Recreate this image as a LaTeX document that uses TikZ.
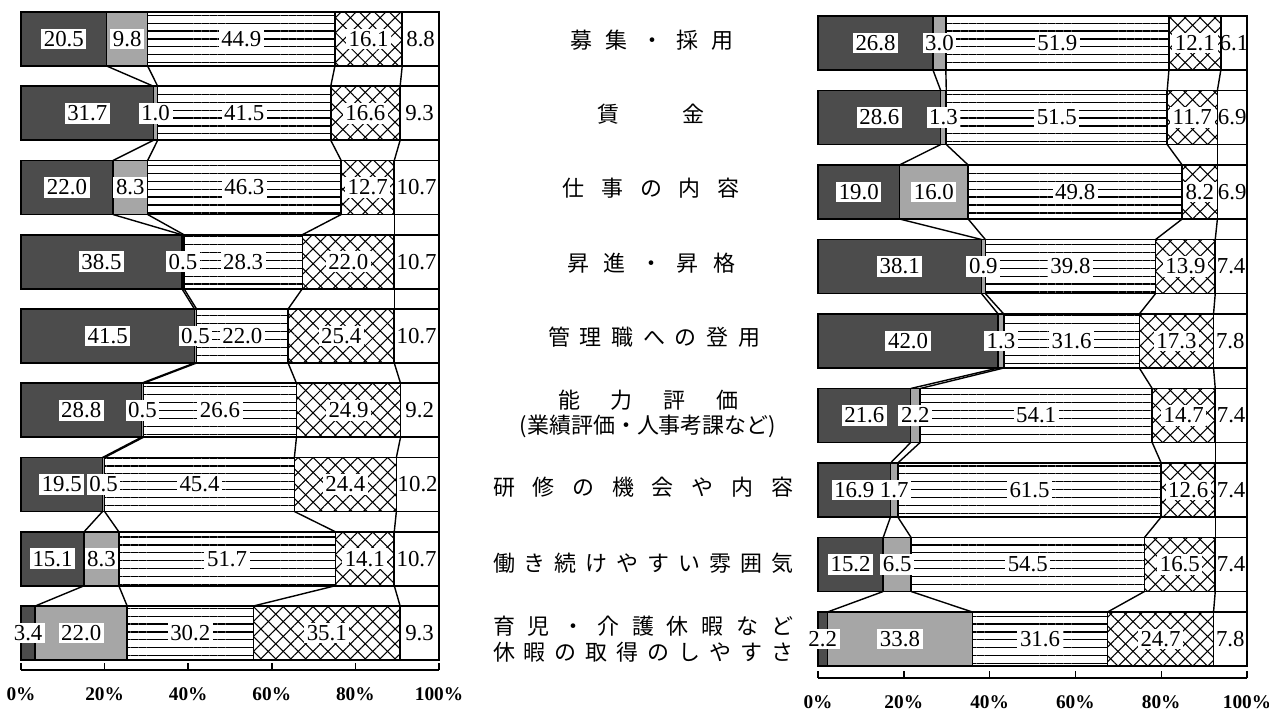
\documentclass[tikz,border=0pt]{standalone}
\usepackage{fontspec}
\setmainfont{Liberation Serif}
\newfontfamily\jp{Noto Sans CJK JP}
\usetikzlibrary{patterns.meta}

\newcommand\barpanel[7]{%
\draw[thick] (#2,#6) -- ({#2+100*#3},#6);
\foreach \t in {0,20,...,100}{
  \draw[thick] ({#2+\t*#3},#6) -- ({#2+\t*#3},#6-7);
  \node[ticklab] (#1x\t) at ({#2+\t*#3},#6+24) {\t\%};
}
\foreach \pa/\pb/\pc/\pd/\pe [count=\i] in {#7}{
  \pgfmathsetmacro\yt{#4+(\i-1)*#5}
  \pgfmathsetmacro\yb{\yt+54}
  \pgfmathsetmacro\ym{\yt+27}
  \pgfmathsetmacro\xb{#2+#3*\pa}
  \pgfmathsetmacro\xc{#2+#3*(\pa+\pb)}
  \pgfmathsetmacro\xd{#2+#3*(100-\pd-\pe)}
  \pgfmathsetmacro\xe{#2+#3*(100-\pe)}
  \pgfmathsetmacro\xf{#2+#3*100}
  \draw[darkseg] (#2,\yt) rectangle (\xb,\yb);
  \draw[lightseg] (\xb,\yt) rectangle (\xc,\yb);
  \draw[lineseg] (\xc,\yt) rectangle (\xd,\yb);
  \draw[crossseg] (\xd,\yt) rectangle (\xe,\yb);
  \draw[whiteseg] (\xe,\yt) rectangle (\xf,\yb);
  \node[boxlab] (#1\i a) at ({(#2+\xb)/2},\ym) {\pa};
  \node[boxlab] (#1\i b) at ({(\xb+\xc)/2},\ym) {\pb};
  \node[boxlab] (#1\i c) at ({(\xc+\xd)/2},\ym) {\pc};
  \node[boxlab] (#1\i d) at ({(\xd+\xe)/2},\ym) {\pd};
  \node[plainlab] (#1\i e) at ({(\xe+\xf)/2},\ym) {\pe};
  \foreach \x [count=\k] in {\xb,\xc,\xd,\xe,\xf}{
    \coordinate (#1\i t\k) at (\x,\yt);
    \coordinate (#1\i b\k) at (\x,\yb);
  }
  \ifnum\i>1
    \pgfmathtruncatemacro\prev{\i-1}
    \foreach \k in {1,...,5} \draw[thick] (#1\prev b\k) -- (#1\i t\k);
  \fi
}}

\begin{document}
\begin{tikzpicture}[x=0.02cm,y=-0.02cm,
  seg/.style={draw=black,line width=0.9pt},
  darkseg/.style={seg,fill=black!70},
  lightseg/.style={seg,fill=black!35},
  lineseg/.style={seg,pattern={Lines[angle=0,distance=4.5pt,line width=0.7pt]}},
  crossseg/.style={seg,pattern={Lines[angle=45,distance=6pt,line width=0.6pt]},
    postaction={pattern={Lines[angle=-45,distance=6pt,line width=0.6pt]}}},
  whiteseg/.style={seg,fill=white},
  boxlab/.style={fill=white,inner sep=1.5pt,font=\fontsize{13}{15}\selectfont},
  plainlab/.style={inner sep=1pt,font=\fontsize{13}{15}\selectfont},
  ticklab/.style={font=\fontsize{11}{13}\selectfont\bfseries},
  cat/.style={font=\jp\fontsize{12.5}{14.5}\selectfont,align=center}]
\useasboundingbox (0,0) rectangle (1269,711);

\barpanel{L}{21}{4.18}{12}{74.25}{670}{20.5/9.8/44.9/16.1/8.8,
  31.7/1.0/41.5/16.6/9.3, 22.0/8.3/46.3/12.7/10.7, 38.5/0.5/28.3/22.0/10.7,
  41.5/0.5/22.0/25.4/10.7, 28.8/0.5/26.6/24.9/9.2, 19.5/0.5/45.4/24.4/10.2,
  15.1/8.3/51.7/14.1/10.7, 3.4/22.0/30.2/35.1/9.3}
\barpanel{R}{818}{4.29}{16}{74.5}{678}{26.8/3.0/51.9/12.1/6.1,
  28.6/1.3/51.5/11.7/6.9, 19.0/16.0/49.8/8.2/6.9, 38.1/0.9/39.8/13.9/7.4,
  42.0/1.3/31.6/17.3/7.8, 21.6/2.2/54.1/14.7/7.4, 16.9/1.7/61.5/12.6/7.4,
  15.2/6.5/54.5/16.5/7.4, 2.2/33.8/31.6/24.7/7.8}

\node[cat] (c1) at (652,40) {\makebox[3.26cm][s]{募 集 ・ 採 用}};
\node[cat] (c2) at (651,114) {\makebox[2.14cm][s]{賃 金}};
\node[cat] (c3) at (651,188) {\makebox[3.54cm][s]{仕 事 の 内 容}};
\node[cat] (c4) at (651,263) {\makebox[3.36cm][s]{昇 進 ・ 昇 格}};
\node[cat] (c5) at (654,337) {\makebox[4.24cm][s]{管 理 職 へ の 登 用}};
\node[cat] (c6) at (648,414) {\makebox[3.6cm][s]{能 力 評 価}\\(業績評価・人事考課など)};
\node[cat] (c7) at (643,487) {\makebox[6cm][s]{研 修 の 機 会 や 内 容}};
\node[cat] (c8) at (643,563) {\makebox[6cm][s]{働 き 続 け や す い 雰 囲 気}};
\node[cat] (c9) at (643,639) {\makebox[6cm][s]{育 児 ・ 介 護 休 暇 な ど}\\
  \makebox[6cm][s]{休 暇 の 取 得 の し や す さ}};
\end{tikzpicture}
\end{document}
